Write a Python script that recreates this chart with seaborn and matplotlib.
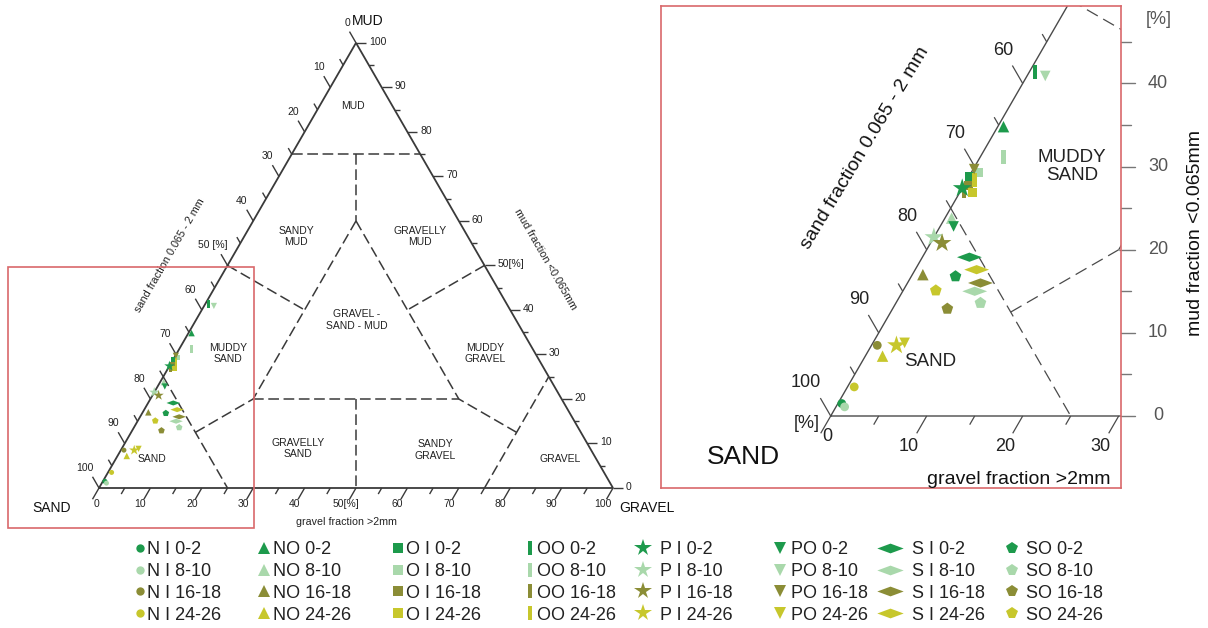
import numpy as np
import pandas as pd
import matplotlib
matplotlib.use("Agg")
import matplotlib.pyplot as plt
import seaborn as sns
from matplotlib.lines import Line2D
from matplotlib.patches import Rectangle

# ---------------- data ----------------
stations = ["N I", "NO", "O I", "OO", "P I", "PO", "S I", "SO"]
depths = ["0-2", "8-10", "16-18", "24-26"]

# gravel fraction >2 mm [%] per station, ordered by depth (0-2, 8-10, 16-18, 24-26)
gravel_NI = [0.4, 0.9, 0.6, 0.7]
gravel_NO = [0.6, 0.7, 1.1, 1.8]
gravel_OI = [0.1, 0.7, 0.5, 1.3]
gravel_OO = [0.6, 2.4, 0.4, 0.8]
gravel_PI = [0.0, 0.0, 1.2, 2.6]
gravel_PO = [1.4, 1.9, 0.1, 3.3]
gravel_SI = [4.9, 7.5, 7.6, 6.4]
gravel_SO = [4.6, 8.8, 5.7, 3.4]

# mud fraction <0.065 mm [%]
mud_NI = [1.5, 1.1, 8.5, 3.5]
mud_NO = [34.8, 23.8, 17.0, 7.2]
mud_OI = [28.8, 29.3, 27.7, 26.9]
mud_OO = [41.4, 31.2, 27.0, 28.4]
mud_PI = [27.4, 21.5, 20.8, 8.5]
mud_PO = [22.8, 40.9, 29.7, 8.8]
mud_SI = [19.1, 15.0, 16.0, 17.6]
mud_SO = [16.8, 13.6, 12.9, 15.1]

gravel_all = [gravel_NI, gravel_NO, gravel_OI, gravel_OO, gravel_PI, gravel_PO, gravel_SI, gravel_SO]
mud_all = [mud_NI, mud_NO, mud_OI, mud_OO, mud_PI, mud_PO, mud_SI, mud_SO]

tick_values = list(range(0, 101, 10))

# ---------------- styling ----------------
sns.set_style("white")
plt.rcParams['font.family'] = ['Liberation Sans', 'DejaVu Sans']

depth_colors = {"0-2": "#1d9a4c", "8-10": "#a9d8ab", "16-18": "#8b8d36", "24-26": "#c7c72c"}
bar_marker = [(-0.33, -1), (0.33, -1), (0.33, 1), (-0.33, 1), (-0.33, -1)]
diamond_marker = [(-1, 0), (0, 0.37), (1, 0), (0, -0.37), (-1, 0)]
marker_map = {"N I": "o", "NO": "^", "O I": "s", "OO": bar_marker,
              "P I": "*", "PO": "v", "S I": diamond_marker, "SO": "p"}
size_inset = {"N I": 40, "NO": 68, "O I": 42, "OO": 100, "P I": 200, "PO": 58, "S I": 320, "SO": 78}
size_main = {"N I": 13, "NO": 22, "O I": 14, "OO": 34, "P I": 60, "PO": 20, "S I": 95, "SO": 25}
legend_ms = {"N I": 6, "NO": 9, "O I": 7.5, "OO": 10, "P I": 13, "PO": 8, "S I": 19, "SO": 8.5}

SQ3 = np.sqrt(3) / 2


def to_xy(g, m):
    g = np.asarray(g, float)
    m = np.asarray(m, float)
    return g + m / 2, m * SQ3


rows = []
for st, gl, ml in zip(stations, gravel_all, mud_all):
    for d, g, m in zip(depths, gl, ml):
        x, y = to_xy(g, m)
        rows.append(dict(station=st, depth=d, gravel=g, mud=m, sand=100 - g - m, X=float(x), Y=float(y)))
df = pd.DataFrame(rows)

W, H = 1208, 628
fig = plt.figure(figsize=(W / 100, H / 100), dpi=100)


def add_px_axes(x0, y0, x1, y1):
    return fig.add_axes([x0 / W, 1 - y1 / H, (x1 - x0) / W, (y1 - y0) / H])


TXT = "#222222"
LINE = "#3a3a3a"

# boundaries of the classification fields (gravel, mud)
dashed_segments = [
    ((0, 75), (25, 75)), ((12.5, 75), (20, 60)), ((20, 60), (20, 20)), ((20, 60), (60, 20)),
    ((20, 20), (60, 20)), ((0, 50), (20, 40)), ((50, 50), (40, 40)), ((40, 20), (50, 0)),
    ((0, 25), (25, 0)), ((12.5, 12.5), (20, 20)), ((75, 0), (75, 25)), ((75, 12.5), (60, 20)),
]


def draw_frame(ax, lw_edge, lw_dash, dashes, color):
    tx, ty = to_xy([0, 100, 0, 0], [0, 0, 100, 0])
    ax.plot(tx, ty, color=color, lw=lw_edge, zorder=1, solid_joinstyle='miter')
    for (g0, m0), (g1, m1) in dashed_segments:
        xs, ys = to_xy([g0, g1], [m0, m1])
        ax.plot(xs, ys, color=color, lw=lw_dash, dashes=dashes, zorder=1)


def draw_ticks(ax, long_lr, short_lr, long_b, short_b, long_r, short_r, color, lw, right=True):
    for v in range(0, 101, 5):
        big = v % 10 == 0
        L = long_lr if big else short_lr
        x0, y0 = to_xy(0, 100 - v)
        ax.plot([x0, x0 - 0.5 * L], [y0, y0 + SQ3 * L], color=color, lw=lw, zorder=1, solid_capstyle='butt')
        L = long_b if big else short_b
        x0, y0 = to_xy(v, 0)
        ax.plot([x0, x0 - 0.5 * L], [y0, y0 - SQ3 * L], color=color, lw=lw, zorder=1, solid_capstyle='butt')
        if right:
            L = long_r if big else short_r
            x0, y0 = to_xy(100 - v, v)
            ax.plot([x0, x0 + L], [y0, y0], color=color, lw=lw, zorder=1, solid_capstyle='butt')


def ann(ax, text, xy, dx=0, dy=0, **kw):
    kw.setdefault('color', TXT)
    ax.annotate(text, xy=xy, xytext=(dx * 0.72, -dy * 0.72), textcoords='offset points',
                annotation_clip=False, **kw)


# ================= main ternary diagram =================
S1 = 5.14  # px per unit
ax = add_px_axes(0, 0, 660, 535)
ax.set_xlim((0 - 99) / S1, (660 - 99) / S1)
ax.set_ylim((488 - 535) / S1, 488 / S1)
ax.axis('off')


def pm(px, py):
    return ((px - 99) / S1, (488 - py) / S1)


draw_frame(ax, 1.3, 1.1, (7, 3), LINE)
draw_ticks(ax, 13 / S1, 7 / S1, 13 / S1, 7 / S1, 10 / S1, 5 / S1, LINE, 1.0)

fs_t = 7.5
for v in tick_values:
    # sand axis (left edge)
    x0, y0 = to_xy(0, 100 - v)
    L = 13 / S1
    end = (x0 - 0.5 * L, y0 + SQ3 * L)
    if v == 50:
        ann(ax, "50 [%]", end, 7, -4, ha='right', va='bottom', fontsize=fs_t)
    else:
        ann(ax, str(v), end, 1, -4, ha='right', va='bottom', fontsize=fs_t)
    # gravel axis (bottom)
    x0, y0 = to_xy(v, 0)
    end = (x0 - 0.5 * L, y0 - SQ3 * L)
    txt = "50[%]" if v == 50 else str(v)
    ann(ax, txt, end, 4 if v == 0 else -3.5, 5, ha='center', va='center', fontsize=fs_t)
    # mud axis (right edge)
    x0, y0 = to_xy(100 - v, v)
    txt = "50[%]" if v == 50 else str(v)
    ann(ax, txt, (x0, y0), 13, -1, ha='left', va='center', fontsize=fs_t)

fs_r = 7.5
region_labels = [("MUD", 352.7, 106), ("SANDY\nMUD", 296, 236.7), ("GRAVELLY\nMUD", 420, 236.7),
                 ("GRAVEL -\nSAND - MUD", 357, 320), ("MUDDY\nSAND", 228.3, 353.3),
                 ("MUDDY\nGRAVEL", 485, 353.3), ("GRAVELLY\nSAND", 297.7, 448.3),
                 ("SANDY\nGRAVEL", 435, 450), ("GRAVEL", 560, 459), ("SAND", 151.7, 459.3)]
for t, px, py in region_labels:
    ax.text(*pm(px, py), t, ha='center', va='center', fontsize=fs_r, color=TXT, linespacing=1.15)

ax.text(*pm(367.3, 20.7), "MUD", ha='center', va='center', fontsize=10, color="#111111")
ax.text(*pm(51.7, 508.3), "SAND", ha='center', va='center', fontsize=10, color="#111111")
ax.text(*pm(646.7, 508.3), "GRAVEL", ha='center', va='center', fontsize=10, color="#111111")
ax.text(*pm(170, 255), "sand fraction 0.065 - 2 mm", rotation=60, ha='center', va='center',
        fontsize=7.8, color=TXT, rotation_mode='anchor')
ax.text(*pm(545, 259), "mud fraction <0.065mm", rotation=-60, ha='center', va='center',
        fontsize=7.8, color=TXT, rotation_mode='anchor')
ax.text(*pm(346.7, 521.7), "gravel fraction >2mm", ha='center', va='center', fontsize=7.7, color=TXT)

# red frame marking the zoomed region
x0, y0 = pm(8, 528)
x1, y1 = pm(254, 267)
ax.add_patch(Rectangle((x0, y0), x1 - x0, y1 - y0, fill=False, edgecolor="#d9686b", lw=1.2,
                       clip_on=False, zorder=5))

sns.scatterplot(data=df, x="X", y="Y", hue="depth", style="station", size="station",
                hue_order=depths, style_order=stations, size_order=stations,
                palette=depth_colors, markers=marker_map, sizes=size_main,
                linewidth=0, edgecolor='none', legend=False, ax=ax, zorder=3)
ax.set_xlabel("")
ax.set_ylabel("")

# ================= zoomed inset =================
S2 = 9.6
VX, VY = 830.7, 416
axi = add_px_axes(661, 6, 1121, 488)
axi.set_xlim((661 - VX) / S2, (1121 - VX) / S2)
axi.set_ylim((VY - 488) / S2, (VY - 6) / S2)


def pi(px, py):
    return ((px - VX) / S2, (VY - py) / S2)


draw_frame(axi, 1.0, 0.9, (10, 5), "#4a4a4a")
draw_ticks(axi, 20.7 / S2, 9 / S2, 20 / S2, 10 / S2, 0, 0, "#4a4a4a", 0.9, right=False)

fs_i = 13
for v in tick_values:
    if v >= 60:
        x0, y0 = to_xy(0, 100 - v)
        L = 20.7 / S2
        end = (x0 - 0.5 * L, y0 + SQ3 * L)
        ann(axi, str(v), end, 1, -7, ha='right', va='bottom', fontsize=fs_i)
    if 10 <= v <= 30:
        x0, y0 = to_xy(v, 0)
        L = 20 / S2
        end = (x0 - 0.5 * L, y0 - SQ3 * L)
        ann(axi, str(v), end, -8, 12.7, ha='center', va='center', fontsize=fs_i)
ann(axi, "0", (0, 0), -3, 20.7, ha='center', va='center', fontsize=fs_i)
axi.text(*pi(806.7, 423.3), "[%]", ha='center', va='center', fontsize=fs_i, color=TXT)

# mud scale at the right side of the inset
for v in range(0, 50, 5):
    yv = v * SQ3
    xe = pi(1135 if v % 10 == 0 else 1131, 0)[0]
    xs = pi(1121, 0)[0]
    axi.plot([xs, xe], [yv, yv], color="#777777", lw=1.0, clip_on=False, zorder=1)
    if v % 10 == 0:
        axi.text(pi(1158, 0)[0], yv, str(v), ha='center', va='center', fontsize=fs_i,
                 color="#555555", clip_on=False)
axi.text(*pi(1159, 19), "[%]", ha='center', va='center', fontsize=fs_i, color="#555555", clip_on=False)
axi.text(*pi(1196, 233), "mud fraction <0.065mm", rotation=90, ha='center', va='center',
         fontsize=14, color="#111111", clip_on=False)

axi.text(*pi(1071.7, 166.7), "MUDDY\nSAND", ha='center', va='center', fontsize=13.5,
         color=TXT, linespacing=1.1)
axi.text(*pi(930, 361.7), "SAND", ha='center', va='center', fontsize=13.5, color=TXT)
axi.text(*pi(743.3, 456.7), "SAND", ha='center', va='center', fontsize=19, color="#111111")
axi.text(*pi(865, 148), "sand fraction 0.065 - 2 mm", rotation=59, ha='center', va='center',
         fontsize=14, color="#111111", rotation_mode='anchor')
axi.text(*pi(1019, 480), "gravel fraction >2mm", ha='center', va='center', fontsize=14,
         color="#111111", clip_on=False)

sns.scatterplot(data=df, x="X", y="Y", hue="depth", style="station", size="station",
                hue_order=depths, style_order=stations, size_order=stations,
                palette=depth_colors, markers=marker_map, sizes=size_inset,
                linewidth=0, edgecolor='none', legend=False, ax=axi, zorder=3)
axi.set_xlabel("")
axi.set_ylabel("")
axi.set_xticks([])
axi.set_yticks([])
for sp in axi.spines.values():
    sp.set_visible(True)
    sp.set_edgecolor("#d9686b")
    sp.set_linewidth(1.2)

# ================= legend (one column per station) =================
fs_leg = 13
fs_px = fs_leg * 100 / 72
marker_cx = [140, 264, 398, 530, 643, 780, 890, 1012]
text_x = [147, 273, 406, 537, 660, 791, 912, 1026]
hl = 1.2
for st, mcx, tx in zip(stations, marker_cx, text_x):
    anchor = mcx - hl * fs_px / 2
    pad = (tx - anchor) / fs_px - hl
    handles = [Line2D([], [], linestyle='none', marker=marker_map[st], markersize=legend_ms[st],
                      markerfacecolor=depth_colors[d], markeredgewidth=0, color=depth_colors[d])
               for d in depths]
    labels = [f"{st} {d}" for d in depths]
    fig.legend(handles, labels, loc='upper left', bbox_to_anchor=(anchor / W, 1 - 541 / H),
               frameon=False, fontsize=fs_leg, handlelength=hl, handletextpad=pad,
               borderpad=0, borderaxespad=0, labelspacing=0.27, labelcolor=TXT)

fig.savefig("out.png", dpi=100)
